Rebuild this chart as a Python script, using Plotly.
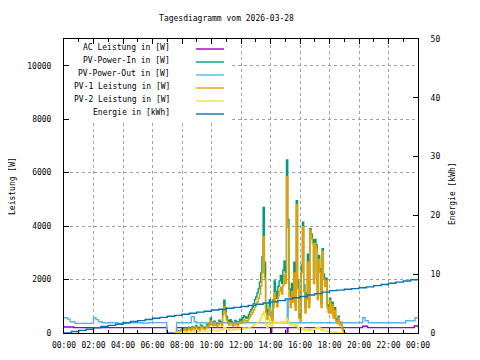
import pandas as pd
import plotly.graph_objects as go

DAY = "2026-03-28"

# ---------------- data ----------------
# AC Leistung [W] (irregular step points)
ac_times = ["00:00", "00:40", "06:58", "07:38", "14:02", "14:05", "15:08", "15:11",
            "20:15", "20:35", "23:45", "24:00"]
ac_values = [225, 200, 0, 200, 0, 200, 0, 200, 250, 200, 260, 260]

# PV-Power-Out [W] (irregular step points)
out_times = ["00:00", "00:15", "00:25", "00:45", "02:00", "02:10", "02:20", "02:35",
             "03:40", "04:10", "05:20", "05:45", "06:58", "07:38", "08:38", "08:50",
             "08:58", "14:02", "14:07", "15:08", "15:12", "20:15", "20:25", "20:38",
             "23:10", "23:48", "24:00"]
out_values = [570, 520, 420, 360, 570, 500, 420, 385,
              360, 385, 370, 390, 0, 385, 610, 420,
              385, 800, 385, 1250, 385, 570, 460, 385,
              460, 570, 570]

# PV data, 5-minute samples from 07:30 to 19:10
pv_in = [0, 20, 50, 90, 60, 110,
         160, 120, 190, 90, 140, 220, 180, 130, 240, 200, 170, 280,
         230, 190, 140, 300, 260, 210, 170, 230, 320, 290, 380, 560,
         400, 340, 440, 380, 300, 390, 480, 420, 340, 850, 1230, 950,
         620, 470, 400, 500, 430, 350, 390, 470, 410, 350, 430, 520,
         470, 570, 650, 610, 550, 590, 690, 790, 870, 970, 1100, 1250,
         1350, 1500, 1650, 1900, 2250, 2850, 4700, 2650, 1050, 680, 870, 1250,
         740, 560, 1250, 1950, 1550, 1300, 1750, 1950, 2150, 1850, 2350, 2700,
         2250, 6470, 4250, 1650, 1200, 1850, 1400, 2650, 1050, 4950, 1950, 700,
         600, 2550, 4150, 1800, 950, 1500, 2950, 1150, 3900, 3700, 3500, 2050,
         3500, 3300, 1450, 2900, 2400, 1100, 3150, 2200, 1900, 2050, 1050, 850,
         1300, 850, 1150, 650, 950, 530, 430, 630, 350, 400, 200, 100,
         0, 0, 0]
pv1 = [0, 10, 30, 60, 40, 80,
       120, 90, 150, 60, 100, 180, 140, 90, 200, 160, 120, 230,
       180, 140, 90, 250, 200, 160, 120, 180, 260, 220, 300, 450,
       330, 270, 350, 300, 240, 310, 390, 340, 270, 650, 980, 760,
       480, 360, 300, 390, 340, 260, 300, 370, 320, 260, 340, 410,
       360, 440, 510, 480, 420, 460, 540, 620, 680, 760, 860, 960,
       1060, 1160, 1300, 1460, 1760, 2260, 3600, 2060, 760, 510, 660, 960,
       520, 400, 950, 1500, 1180, 980, 1380, 1560, 1720, 1460, 1780, 2180,
       1850, 5850, 3950, 1350, 950, 1550, 1150, 2250, 850, 4800, 1650, 550,
       450, 2250, 3980, 1550, 750, 1250, 2650, 950, 3850, 3550, 3350, 1850,
       3350, 3150, 1250, 2750, 2250, 950, 3050, 2050, 1750, 1950, 950, 750,
       1220, 750, 1050, 550, 850, 450, 350, 550, 300, 350, 150, 60,
       0, 0, 0]
pv2 = [0, 10, 20, 30, 20, 30,
       40, 30, 40, 30, 40, 40, 40, 40, 40, 40, 50, 50,
       50, 40, 50, 60, 60, 50, 50, 60, 60, 70, 80, 100,
       90, 80, 100, 90, 80, 90, 110, 100, 90, 150, 200, 180,
       140, 120, 110, 130, 120, 110, 120, 140, 130, 120, 140, 160,
       150, 170, 190, 180, 170, 180, 200, 220, 240, 260, 300, 330,
       350, 380, 420, 480, 560, 700, 790, 640, 320, 200, 260, 560,
       420, 260, 360, 420, 400, 370, 380, 400, 420, 380, 400, 430,
       400, 540, 450, 350, 300, 350, 300, 350, 250, 300, 200, 150,
       100, 150, 200, 120, 80, 100, 150, 80, 120, 100, 100, 80,
       150, 225, 150, 200, 180, 100, 120, 100, 80, 90, 60, 50,
       60, 50, 40, 40, 40, 30, 20, 20, 10, 10, 5, 0,
       0, 0, 0]

# Energie [kWh], 30-minute samples 00:00 .. 24:00
energy = [0.0, 0.25, 0.45, 0.65, 0.9, 1.1, 1.3, 1.5, 1.75, 1.95, 2.1, 2.3,
          2.5, 2.65, 2.85, 3.0, 3.2, 3.35, 3.55, 3.7, 3.9, 4.05, 4.2, 4.35,
          4.5, 4.7, 4.9, 5.1, 5.3, 5.5, 5.8, 6.0, 6.2, 6.45, 6.7, 6.95,
          7.2, 7.3, 7.45, 7.55, 7.7, 7.85, 8.05, 8.25, 8.45, 8.65, 8.85, 9.05,
          9.2]

legend_labels = ["AC Leistung in [W]", "PV-Power-In in [W]", "PV-Power-Out in [W]",
                 "PV-1 Leistung in [W]", "PV-2 Leistung in [W]", "Energie in [kWh]"]
colors = ["#9400d3", "#009e73", "#56b4e9", "#e69f00", "#f0e442", "#0072b2"]

title_text = "Tagesdiagramm vom 2026-03-28"
y_title = "Leistung [W]"
y2_title = "Energie [kWh]"

# ---------------- helpers ----------------
base = pd.Timestamp(DAY)


def to_ts(hm):
    h, m = hm.split(":")
    return base + pd.Timedelta(hours=int(h), minutes=int(m))


ac_x = [to_ts(t) for t in ac_times]
out_x = [to_ts(t) for t in out_times]
pv_x = pd.date_range(base + pd.Timedelta(hours=7, minutes=30), periods=len(pv1), freq="5min")
en_x = pd.date_range(base, periods=len(energy), freq="30min")

FONT = "DejaVu Sans Mono"
LW = 1.4

fig = go.Figure()
fig.add_trace(go.Scatter(x=ac_x, y=ac_values, mode="lines", line=dict(color=colors[0], width=LW, shape="hv"), showlegend=False))
fig.add_trace(go.Scatter(x=pv_x, y=pv_in, mode="lines", line=dict(color=colors[1], width=LW, shape="hv"), showlegend=False))
fig.add_trace(go.Scatter(x=out_x, y=out_values, mode="lines", line=dict(color=colors[2], width=LW, shape="hv"), showlegend=False))
fig.add_trace(go.Scatter(x=pv_x, y=pv1, mode="lines", line=dict(color=colors[3], width=LW, shape="hv"), showlegend=False))
fig.add_trace(go.Scatter(x=pv_x, y=pv2, mode="lines", line=dict(color=colors[4], width=LW, shape="hv"), showlegend=False))
fig.add_trace(go.Scatter(x=en_x, y=energy, mode="lines", yaxis="y2", line=dict(color=colors[5], width=LW, shape="hv"), showlegend=False))

# page offset (default body margin) and plot area in window pixels
OFF = 8
L, R, T, B = 64, 418, 39, 333
FIG_W, FIG_H = 480 - OFF, 360 - OFF
W_PX, H_PX = R - L, B - T


def px(xp):
    return (xp - L) / W_PX


def py(yp):
    return (B - yp) / H_PX


shapes = []
annotations = []

# opaque key background (kept clear of the border ticks)
shapes.append(dict(type="rect", xref="paper", yref="paper", x0=px(L + 6), x1=px(229), y0=py(121), y1=py(T + 6),
                   fillcolor="white", line=dict(width=0), layer="above"))

row_y = [49, 62, 75, 88, 101, 114]
for lbl, c, ry in zip(legend_labels, colors, row_y):
    annotations.append(dict(text=lbl, xref="paper", yref="paper", x=px(172), y=py(ry - 1.5),
                            xanchor="right", yanchor="middle", showarrow=False,
                            font=dict(family=FONT, size=8, color="black")))
    shapes.append(dict(type="line", xref="paper", yref="paper", x0=px(196), x1=px(224), y0=py(ry), y1=py(ry),
                       line=dict(color=c, width=LW), layer="above"))

annotations.append(dict(text=y_title, xref="paper", yref="paper", x=px(12), y=py(186), textangle=-90,
                        xanchor="center", yanchor="middle", showarrow=False,
                        font=dict(family=FONT, size=8, color="black")))
annotations.append(dict(text=y2_title, xref="paper", yref="paper", x=px(452), y=py(193), textangle=-90,
                        xanchor="center", yanchor="middle", showarrow=False,
                        font=dict(family=FONT, size=8, color="black")))

axis_common = dict(showline=True, linecolor="black", linewidth=1, ticks="inside", tickcolor="black",
                   tickfont=dict(family=FONT, size=8, color="black"), zeroline=False, automargin=False)

fig.update_layout(
    width=FIG_W, height=FIG_H,
    margin=dict(l=L - OFF, r=480 - R, t=T - OFF, b=360 - B, pad=0),
    paper_bgcolor="white", plot_bgcolor="white",
    title=dict(text=title_text, x=(226.5 - OFF) / FIG_W, y=1 - (18 - OFF) / FIG_H, xanchor="center",
               yanchor="middle", font=dict(family=FONT, size=8, color="black")),
    xaxis=dict(type="date", range=[base, base + pd.Timedelta(days=1)], tickformat="%H:%M",
               tick0=base, dtick=7200000, ticklen=5, mirror="ticks",
               showgrid=True, gridcolor="#a0a0a0", griddash="3px,3px", gridwidth=1,
               minor=dict(dtick=3600000, ticks="inside", ticklen=3, tickcolor="black", showgrid=False),
               ticklabelstandoff=4, **axis_common),
    yaxis=dict(range=[0, 11000], dtick=2000, tick0=0, ticklen=5, tickformat="d", showgrid=True,
               gridcolor="#a0a0a0", griddash="3px,3px", gridwidth=1, ticklabelstandoff=10, **axis_common),
    yaxis2=dict(range=[0, 50], dtick=10, tick0=0, ticklen=5, tickformat="d", overlaying="y", side="right",
                showgrid=False, ticklabelstandoff=10, **axis_common),
    shapes=shapes,
    annotations=annotations,
    showlegend=False,
)

fig.write_html("out.html")
